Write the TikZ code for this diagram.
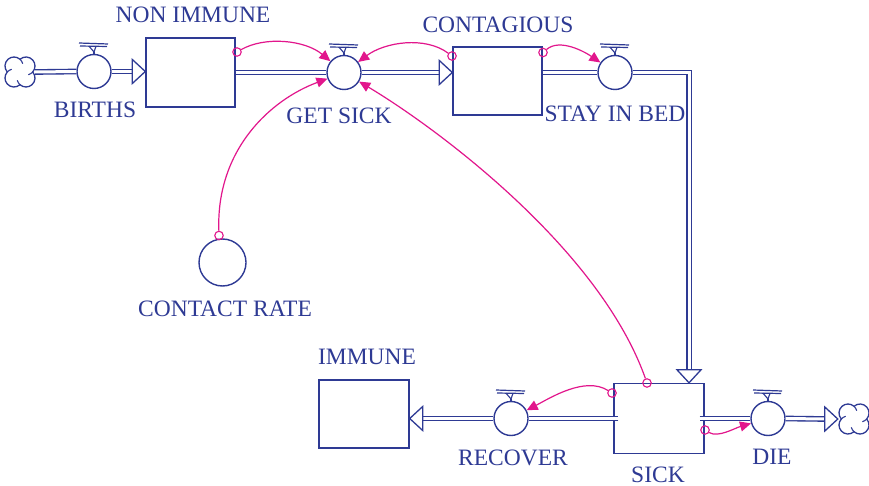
\documentclass[tikz,border=0pt]{standalone}
\usepackage{fontspec}
\setmainfont{Liberation Serif}
\usetikzlibrary{arrows.meta,calc}

\definecolor{navy}{RGB}{46,58,148}
\definecolor{linkc}{RGB}{226,22,140}

\tikzset{
  stock/.style={draw=navy, line width=1.4pt, rectangle, inner sep=0pt,
                minimum width=89pt, minimum height=69pt},
  valve/.style={draw=navy, line width=1.4pt, circle, fill=white, inner sep=0pt,
                minimum size=34pt},
  aux/.style={draw=navy, line width=1.4pt, circle, inner sep=0pt, minimum size=47pt},
  tap/.style={draw=linkc, line width=1.1pt, circle, inner sep=0pt, minimum size=8.5pt},
  src/.style={circle, inner sep=0pt, minimum size=30pt},
  lbl/.style={text=navy, font=\fontsize{23.5}{26}\selectfont, inner sep=0pt},
  pipe/.style={draw=navy, line width=1.35pt, double=white, double distance=3pt},
  link/.style={draw=linkc, line width=1.2pt, -{Triangle[length=11pt,width=10pt]}},
  pics/pipehead/.style={code={
    \draw[navy, line width=1.3pt, fill=white, line join=miter]
      (0,0) -- (-13,12) -- (-13,-12) -- cycle;}},
  pics/valvetop/.style={code={
    \draw[navy, line width=1.2pt] (-15,-28.5) -- (14,-27.5);
    \draw[navy, line width=1.2pt] (-14,-25.5) -- (13,-25);
    \draw[navy, line width=1.1pt] (-5,-25.3) -- (0,-19.5) -- (2,-25.2);
    \draw[navy, line width=1.1pt] (0,-19.5) -- (0,-17);}},
  pics/cloud/.style={code={
    \draw[navy, line width=1.3pt, fill=white]
      (-12.71,0) arc[start angle=138.2, end angle=311.8, radius=9]
                 arc[start angle=228.2, end angle=401.8, radius=9]
                 arc[start angle=318.2, end angle=491.8, radius=9]
                 arc[start angle=408.2, end angle=581.8, radius=9] -- cycle;
    \draw[navy, line width=1.1pt] (0,-12.71) arc[start angle=-48.2, end angle=-15, radius=9];
    \draw[navy, line width=1.1pt] (12.71,0) arc[start angle=41.8, end angle=75, radius=9];
    \draw[navy, line width=1.1pt] (0,12.71) arc[start angle=131.8, end angle=165, radius=9];
    \draw[navy, line width=1.1pt] (-12.71,0) arc[start angle=221.8, end angle=255, radius=9];}}
}

\begin{document}
\begin{tikzpicture}[x=1pt, y=-1pt]
  \useasboundingbox[fill=white] (0,0) rectangle (869,486);

  % stocks
  \node[stock] (nonimmune) at (190.5,72.5) {};
  \node[stock, minimum height=68pt] (contagious) at (497.5,81) {};
  \node[stock, minimum width=90pt, minimum height=70pt] (sick) at (659,418.5) {};
  \node[stock, minimum width=90pt, minimum height=68pt] (immune) at (364,414) {};

  % sources and sinks
  \node[src] (cloudL) at (20,72) {};
  \node[src] (cloudR) at (854,419) {};
  \pic at (cloudL) {cloud};
  \pic at (cloudR) {cloud};

  % rates
  \node[valve] (births) at (94,71.5) {};
  \node[valve] (getsick) at (344,72.5) {};
  \node[valve] (stayinbed) at (615,72.5) {};
  \node[valve] (recover) at (511,418.5) {};
  \node[valve] (die) at (768,418.5) {};
  \foreach \v in {births,getsick,stayinbed,recover,die} \pic at (\v) {valvetop};

  % auxiliary
  \node[aux] (contact) at (222.5,262.5) {};

  % flows
  \draw[pipe] (cloudL.east) -- (births.west);
  \draw[pipe] (births.east) -- ($(births.east -| nonimmune.west)+(-12,0)$);
  \pic at (births.east -| nonimmune.west) {pipehead};

  \draw[pipe] (nonimmune.east) -- (getsick.west);
  \draw[pipe] (getsick.east) -- ($(getsick.east -| contagious.west)+(-12,0)$);
  \pic at (getsick.east -| contagious.west) {pipehead};

  \draw[pipe] (stayinbed.west -| contagious.east) -- (stayinbed.west);
  \coordinate (bend) at (689,72.5);
  \draw[pipe] (stayinbed.east) -- (bend) -- ($(bend |- sick.north)+(0,-12)$);
  \pic[rotate=-90] at (bend |- sick.north) {pipehead};

  \draw[pipe] ($(sick.west)+(5,0)$) -- (recover.east);
  \draw[pipe] (recover.west) -- ($(recover.west -| immune.east)+(12,0)$);
  \pic[rotate=180] at (recover.west -| immune.east) {pipehead};

  \draw[pipe] ($(sick.east)+(-5,0)$) -- (die.west);
  \draw[pipe] (die.east) -- ($(cloudR.west)+(-13,0)$);
  \pic at ($(cloudR.west)+(-1,0)$) {pipehead};

  % information links
  \node[tap] (t1) at (237,52) {};
  \node[tap] (t2) at (452,56) {};
  \node[tap] (t3) at (219,235.5) {};
  \node[tap] (t4) at (647,383) {};
  \node[tap] (t5) at (543,52.5) {};
  \node[tap] (t6) at (612,393) {};
  \node[tap] (t7) at (705,430) {};

  \draw[link] (t1) .. controls (265,36) and (305,40) .. (getsick);
  \draw[link] (t2) .. controls (425,36) and (385,42) .. (getsick);
  \draw[link] (t3) .. controls (216,150) and (270,100) .. (getsick);
  \draw[link] (t4) .. controls (600,250) and (440,130) .. (getsick);
  \draw[link] (t5) .. controls (560,38) and (585,52) .. (stayinbed);
  \draw[link] (t6) .. controls (585,376) and (550,398) .. (recover);
  \draw[link] (t7) .. controls (718,438) and (735,428) .. (die);

  % labels
  \node[lbl] (lnonimmune) at (193,15) {NON IMMUNE};
  \node[lbl] (lbirths) at (95,110) {BIRTHS};
  \node[lbl] (lgetsick) at (339,116) {GET SICK};
  \node[lbl] (lcontagious) at (498,24.5) {CONTAGIOUS};
  \node[lbl] (lstay) at (615,113.5) {STAY IN BED};
  \node[lbl] (lcontact) at (225,309) {CONTACT RATE};
  \node[lbl] (limmune) at (367,356.5) {IMMUNE};
  \node[lbl] (lrecover) at (513,458) {RECOVER};
  \node[lbl] (lsick) at (658,475) {SICK};
  \node[lbl] (ldie) at (772,457) {DIE};
\end{tikzpicture}
\end{document}
